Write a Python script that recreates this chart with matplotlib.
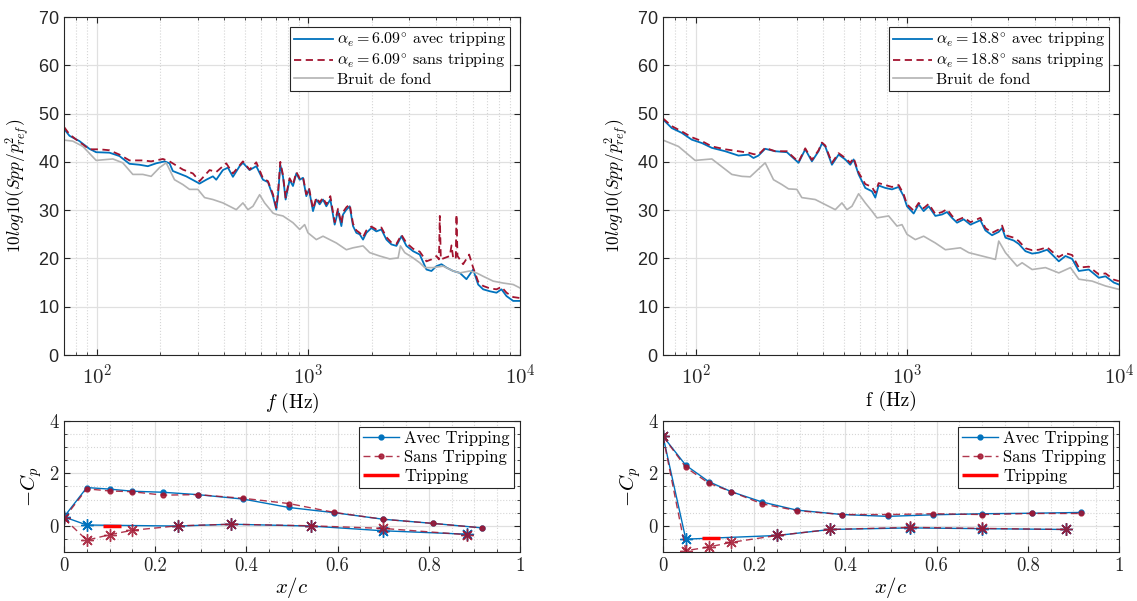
import math
import matplotlib
matplotlib.use('Agg')
import matplotlib.pyplot as plt
from matplotlib.ticker import MultipleLocator, FixedLocator, FuncFormatter, NullFormatter

plt.rcParams['mathtext.fontset'] = 'cm'
plt.rcParams['axes.formatter.use_mathtext'] = True

# ---- spectra, left panel (alpha_e = 6.09 deg) ----
f_avec1 = [70.1, 74.3, 82.8, 92.3, 99.3, 114.8, 128, 142.7, 159.1, 174.3, 190.9, 209, 220.7, 228.8,
           264.6, 306, 329.1, 353.8, 366.9, 394.5, 416.6, 439.9, 473.1, 490.5, 527.5, 567.2, 609.9,
           644.1, 680.1, 705.3, 718.2, 736.7, 758.3, 780.6, 815.3, 845.6, 877, 909.4, 943, 977.7,
           1006.5, 1051.4, 1090.2, 1130.6, 1172.4, 1215.6, 1269.9, 1331.2, 1380.4, 1431.6, 1457.9,
           1511.7, 1567.6, 1625.5, 1685.7, 1747.7, 1812.4, 1879.3, 1984.8, 2095.6, 2213.1, 2337.1,
           2467.6, 2606.2, 2752, 2906.3, 3124.9, 3359.9, 3613.6, 3815.8, 4029.7, 4255.1, 4493.6,
           4830.6, 5194.1, 5584.7, 6006, 6342, 6697, 7201, 7743, 8178, 8635, 9285, 9984]
s_avec1 = [46.8, 45.4, 44.3, 42.7, 42.0, 41.9, 41.2, 39.6, 39.4, 39.1, 39.7, 40.1, 39.7, 38.1,
           37.0, 35.5, 36.3, 37.0, 36.3, 38.3, 38.8, 36.9, 39.1, 39.8, 38.3, 39.1, 36.3,
           35.8, 32.9, 30.1, 32.9, 39.4, 37.0, 32.2, 36.3, 35.0, 37.6, 36.3, 36.7, 32.9,
           34.3, 29.8, 32.2, 31.2, 32.2, 30.8, 32.2, 27.0, 29.8, 26.7, 29.1,
           30.1, 30.8, 26.7, 25.3, 25.0, 23.9, 25.3, 26.3, 25.6, 26.0, 23.9,
           22.9, 22.6, 24.6, 22.6, 21.5, 20.8, 17.7, 17.4, 18.4, 18.8, 18.1,
           17.4, 17.0, 15.7, 17.7, 14.6, 13.6, 13.2, 12.9, 13.6, 12.2, 11.2, 11.2]

f_sans1 = [70.1, 74.3, 82.8, 92.3, 103, 114.8, 128, 142.7, 165.1, 180.7, 205.3, 220.7, 255.2, 284.6,
           306, 341.2, 366.9, 409.1, 439.9, 490.5, 527.5, 567.2, 609.9, 644.1, 680.1, 705.3, 718.2,
           736.7, 758.3, 780.6, 815.3, 845.6, 877, 909.4, 943, 977.7, 1006.5, 1051.4, 1090.2, 1130.6,
           1172.4, 1215.6, 1269.9, 1331.2, 1380.4, 1431.6, 1457.9, 1511.7, 1567.6, 1625.5, 1685.7,
           1747.7, 1812.4, 1879.3, 1984.8, 2095.6, 2213.1, 2337.1, 2467.6, 2606.2, 2752, 2906.3,
           3124.9, 3359.9, 3613.6, 3815.8, 4029.7, 4140, 4178.9, 4225, 4660, 4745, 4830, 4970,
           5009.7, 5065, 5385, 5750, 6006, 6342, 6697, 7201, 7743, 8178, 8635, 9285, 9984]
s_sans1 = [47.2, 45.7, 44.1, 42.6, 42.6, 42.4, 41.5, 40.3, 40.3, 40.1, 40.6, 40.1, 38.4, 37.6,
           36.0, 38.3, 37.9, 39.7, 37.6, 40.1, 38.4, 39.9, 36.6, 36.0, 33.3, 30.5, 33.5,
           40.0, 37.3, 32.6, 36.6, 35.3, 37.9, 36.6, 36.9, 33.3, 34.6, 30.3, 32.6, 31.6,
           32.6, 31.2, 32.9, 27.5, 30.3, 27.2, 29.6, 30.6, 31.2, 27.2, 25.8,
           25.3, 24.4, 25.8, 26.6, 26.0, 26.4, 24.4, 23.3, 23.0, 24.9, 23.2,
           22.0, 21.4, 19.4, 19.8, 20.5, 19.8, 28.8, 19.8, 20.5, 22.7, 20.2, 19.8,
           29.1, 20.5, 18.8, 20.8, 18.1, 15.2, 14.3, 13.8, 13.6, 14.1, 12.9, 12.0, 11.8]

f_bruit1 = [70.1, 77.0, 85.9, 99.3, 119.1, 132.7, 148, 165.1, 180.7, 197.9, 212.8, 233, 255.2, 274.4,
            300.4, 323.2, 353.8, 394.5, 456.2, 490.5, 518, 547, 588.2, 621.1, 680.1, 705.3, 758.3,
            845.6, 909.4, 960.1, 995.6, 1090.2, 1172.4, 1260.6, 1355.7, 1511.7, 1625.5, 1812.4,
            1949, 2173.2, 2423.1, 2654.1, 2722.2, 2853.9, 3124.9, 3359.9, 3548, 3886, 4333.2,
            4830.6, 5194.1, 5791.6, 6228, 6697, 7468, 8326, 9285, 9984]
s_bruit1 = [44.5, 44.3, 43.2, 40.3, 40.6, 39.8, 37.4, 37.4, 37.0, 38.8, 39.8, 36.3, 35.3, 34.3,
            34.3, 32.6, 32.2, 31.5, 30.1, 31.5, 30.1, 30.8, 33.2, 31.5, 29.4, 29.1, 28.8,
            27.4, 26.0, 27.0, 25.3, 23.9, 24.6, 23.9, 23.2, 21.8, 22.2, 22.6,
            21.2, 20.5, 19.9, 20.1, 22.6, 21.2, 20.1, 19.1, 18.1, 18.1, 18.4,
            17.4, 17.0, 17.4, 17.0, 16.3, 15.3, 14.9, 14.6, 13.9]

# ---- spectra, right panel (alpha_e = 18.8 deg) ----
f_avec2 = [70, 77.0, 85.9, 95.7, 106.8, 119.1, 137.7, 159.1, 177.4, 187.4, 197.9, 212.8, 237.3,
           269.5, 306, 329.1, 353.8, 380.4, 394.5, 409.1, 439.9, 473.1, 508.6, 537, 557, 588.2,
           632.4, 680.1, 705.3, 731.3, 786.4, 845.6, 909.4, 960.1, 995.6, 1070.8, 1130.6, 1193.7,
           1260.6, 1355.7, 1457.9, 1539.3, 1625.5, 1716.5, 1845.5, 1984.8, 2213.1, 2337.1, 2513,
           2702, 2803, 2906.3, 3183, 3359.9, 3613.6, 3886, 4178.9, 4575, 4830.6, 5194.1, 5584.7,
           6006, 6458, 7201, 8030, 8635, 9456, 9984]
s_avec2 = [48.8, 47.0, 46.0, 44.6, 43.9, 42.9, 42.2, 41.3, 41.5, 40.8, 41.3, 42.7, 42.2,
           42.0, 39.8, 42.6, 40.1, 42.2, 43.8, 43.2, 39.4, 41.5, 40.5, 39.4, 40.5, 37.4,
           34.6, 33.9, 32.6, 35.1, 34.6, 34.3, 34.8, 32.9, 30.8, 29.3, 31.2, 29.8,
           30.8, 28.8, 29.1, 29.6, 28.4, 27.4, 28.1, 27.0, 27.9, 25.8, 24.8,
           25.5, 26.3, 24.3, 23.7, 23.0, 21.5, 21.0, 21.2, 21.8, 20.8, 19.4, 20.5,
           19.9, 17.4, 17.7, 16.0, 16.3, 15.0, 14.6]

f_sans2 = f_avec2
s_sans2 = [49.0, 47.4, 46.3, 45.1, 44.3, 43.2, 42.6, 42.2, 41.9, 41.6, 41.5, 42.9, 42.2,
           42.2, 40.0, 42.8, 40.4, 42.4, 44.0, 43.4, 39.8, 41.8, 40.8, 39.8, 40.8, 37.8,
           35.4, 34.8, 33.6, 35.6, 35.2, 34.8, 35.2, 33.3, 31.2, 29.9, 31.5, 30.4,
           31.3, 29.2, 29.6, 30.2, 28.8, 27.9, 28.5, 27.5, 28.4, 26.3, 25.3,
           26.0, 26.8, 24.8, 24.3, 23.6, 22.1, 21.7, 21.8, 22.3, 21.4, 20.3, 21.1,
           20.7, 18.1, 18.3, 16.7, 16.9, 15.6, 15.3]

f_bruit2 = [70, 82.8, 99.3, 119.1, 148, 165.1, 180.7, 212.8, 233, 255.2, 274.4, 300.4, 317, 366.9,
            456.2, 490.5, 518, 547, 588.2, 632.4, 680.1, 718.2, 815.3, 892.9, 943, 995.6, 1090.2,
            1193.6, 1355.7, 1511.7, 1779.8, 1949, 2254, 2606.2, 2702, 2906.3, 3299, 3485, 3886,
            4493.6, 5194.1, 5898, 6458, 7468, 8635, 9984]
s_bruit2 = [44.5, 43.2, 40.3, 40.6, 37.4, 37.0, 36.9, 39.8, 36.3, 35.3, 34.4, 34.3, 32.6, 32.2,
            30.1, 31.5, 30.1, 30.8, 33.4, 31.5, 29.8, 28.4, 28.8, 26.7, 27.0, 25.0, 23.9,
            24.6, 23.2, 21.8, 22.2, 21.2, 20.5, 19.8, 23.6, 21.2, 18.4, 19.1, 17.7,
            18.1, 17.0, 18.1, 15.7, 15.3, 14.3, 13.6]

# ---- pressure coefficients ----
xc_up = [0, 0.05, 0.1, 0.15, 0.217, 0.293, 0.393, 0.493, 0.593, 0.70, 0.81, 0.917]
xc_low_avec = [0, 0.05, 0.25, 0.367, 0.542, 0.70, 0.883]
xc_low_sans = [0, 0.05, 0.1, 0.15, 0.25, 0.367, 0.542, 0.70, 0.883]

cp_up_avec1 = [0.34, 1.46, 1.40, 1.32, 1.28, 1.19, 1.02, 0.70, 0.50, 0.25, 0.09, -0.08]
cp_up_sans1 = [0.28, 1.41, 1.33, 1.30, 1.17, 1.19, 1.05, 0.85, 0.51, 0.25, 0.09, -0.08]
cp_low_avec1 = [0.34, 0.03, -0.01, 0.06, -0.01, -0.19, -0.32]
cp_low_sans1 = [0.28, -0.55, -0.34, -0.17, 0.0, 0.06, 0.0, -0.10, -0.34]

cp_up_avec2 = [3.42, 2.31, 1.69, 1.30, 0.91, 0.60, 0.43, 0.36, 0.42, 0.46, 0.48, 0.51]
cp_up_sans2 = [3.42, 2.23, 1.63, 1.30, 0.84, 0.58, 0.43, 0.43, 0.46, 0.43, 0.47, 0.47]
cp_low_avec2 = [3.42, -0.51, -0.37, -0.14, -0.08, -0.11, -0.14]
cp_low_sans2 = [3.42, -0.95, -0.81, -0.63, -0.37, -0.14, -0.06, -0.10, -0.14]

trip_x = [0.085, 0.125]
trip_y1 = [0.0, 0.0]
trip_y2 = [-0.47, -0.47]

blue = '#0072BD'
red = '#A2142F'
gray = '#B3B3B3'
dark = '#262626'
serif = 'cmr10'
asterisk = (8, 2, 0)

fig = plt.figure(figsize=(11.37, 6.01), dpi=100)
W, H = 1137, 601


def box(x0, y0, x1, y1):
    return [x0 / W, 1 - y1 / H, (x1 - x0) / W, (y1 - y0) / H]


def style(ax):
    for sp in ax.spines.values():
        sp.set_color(dark)
        sp.set_linewidth(0.8)
    ax.tick_params(which='both', direction='in', top=True, right=True, colors=dark)
    ax.tick_params(which='major', length=4)
    ax.tick_params(which='minor', length=2.5)
    ax.set_axisbelow(True)


def spectrum(ax, fa, sa, fs, ss, fb, sb, angle, xlab):
    ax.plot(fa, sa, color=blue, lw=1.3, label=r'$\alpha_e = %s^{\circ}$ avec tripping' % angle)
    ax.plot(fs, ss, color=red, lw=1.3, ls=(0, (4, 2.5)),
            label=r'$\alpha_e = %s^{\circ}$ sans tripping' % angle)
    ax.plot(fb, sb, color=gray, lw=1.2, label='Bruit de fond')
    ax.set_xscale('log')
    ax.set_xlim(70, 1e4)
    ax.set_ylim(0, 70)
    ax.yaxis.set_major_locator(FixedLocator(range(0, 71, 10)))
    ax.xaxis.set_major_locator(FixedLocator([100, 1000, 10000]))
    ax.xaxis.set_major_formatter(FuncFormatter(lambda v, p: r'$\mathsf{10^{%d}}$' % round(math.log10(v))))
    ax.xaxis.set_minor_formatter(NullFormatter())
    ax.grid(True, which='major', color='#E0E0E0', lw=0.9)
    ax.grid(True, which='minor', axis='x', color='#D5D5D5', ls=':', lw=0.8)
    style(ax)
    for lab in ax.get_yticklabels():
        lab.set_fontfamily('Liberation Sans')
    ax.tick_params(axis='x', labelsize=15, pad=6)
    ax.tick_params(axis='y', labelsize=13)
    ax.set_xlabel(xlab, fontsize=14, family=serif, labelpad=2)
    ax.set_ylabel(r'$10log10(Spp/p^2_{ref})$', fontsize=12.5, labelpad=5)
    leg = ax.legend(loc='upper right', prop={'family': serif, 'size': 11.5}, fancybox=False,
                    edgecolor=dark, framealpha=1, handlelength=2.4, borderaxespad=0.6,
                    borderpad=0.25, labelspacing=0.15, handletextpad=0.3)
    leg.get_frame().set_linewidth(0.8)


def cp_panel(ax, up_a, up_s, low_a, low_s, trip_y):
    ax.plot(xc_up, up_a, color=blue, lw=1.0, marker='o', ms=3.5, label='Avec Tripping')
    ax.plot(xc_up, up_s, color=red, lw=1.0, ls=(0, (5, 3)), marker='o', ms=3.5, alpha=0.85,
            label='Sans Tripping')
    ax.plot(xc_low_avec, low_a, color=blue, lw=1.0, marker=asterisk, ms=9, mew=1.0)
    ax.plot(xc_low_sans, low_s, color=red, lw=1.0, ls=(0, (5, 3)), marker=asterisk, ms=9, mew=1.0,
            alpha=0.85)
    ax.plot(trip_x, trip_y, color='#FF0000', lw=2.5, label='Tripping', solid_capstyle='butt')
    ax.set_xlim(0, 1)
    ax.set_ylim(-1, 4)
    ax.xaxis.set_major_locator(MultipleLocator(0.2))
    ax.xaxis.set_minor_locator(MultipleLocator(0.05))
    ax.yaxis.set_major_locator(FixedLocator([0, 2, 4]))
    ax.yaxis.set_minor_locator(MultipleLocator(0.5))
    ax.xaxis.set_major_formatter(FuncFormatter(lambda v, p: '%g' % round(v, 2)))
    ax.yaxis.set_major_formatter(FuncFormatter(lambda v, p: '%g' % v))
    ax.grid(True, which='major', color='#E0E0E0', lw=0.9)
    ax.grid(True, which='minor', color='#D5D5D5', ls=':', lw=0.8)
    style(ax)
    ax.tick_params(which='both', top=False)
    for lab in ax.get_xticklabels() + ax.get_yticklabels():
        lab.set_fontfamily(serif)
    ax.tick_params(labelsize=13.5, pad=4)
    ax.set_xlabel(r'$x/c$', fontsize=15, labelpad=0)
    ax.set_ylabel(r'$-C_p$', fontsize=15, labelpad=4)
    leg = ax.legend(loc='upper right', prop={'family': serif, 'size': 12}, fancybox=False,
                    edgecolor=dark, framealpha=1, handlelength=2.2, borderaxespad=0.35,
                    borderpad=0.25, labelspacing=0.2, handletextpad=0.3)
    leg.get_frame().set_linewidth(0.8)


ax1 = fig.add_axes(box(64, 17, 520, 355))
spectrum(ax1, f_avec1, s_avec1, f_sans1, s_sans1, f_bruit1, s_bruit1, '6.09', r'$f$ (Hz)')
ax2 = fig.add_axes(box(663, 17, 1119, 355))
spectrum(ax2, f_avec2, s_avec2, f_sans2, s_sans2, f_bruit2, s_bruit2, '18.8', 'f (Hz)')

ax3 = fig.add_axes(box(64, 421, 520, 552))
cp_panel(ax3, cp_up_avec1, cp_up_sans1, cp_low_avec1, cp_low_sans1, trip_y1)
ax4 = fig.add_axes(box(663, 421, 1119, 552))
cp_panel(ax4, cp_up_avec2, cp_up_sans2, cp_low_avec2, cp_low_sans2, trip_y2)

fig.savefig('out.png', dpi=100)
